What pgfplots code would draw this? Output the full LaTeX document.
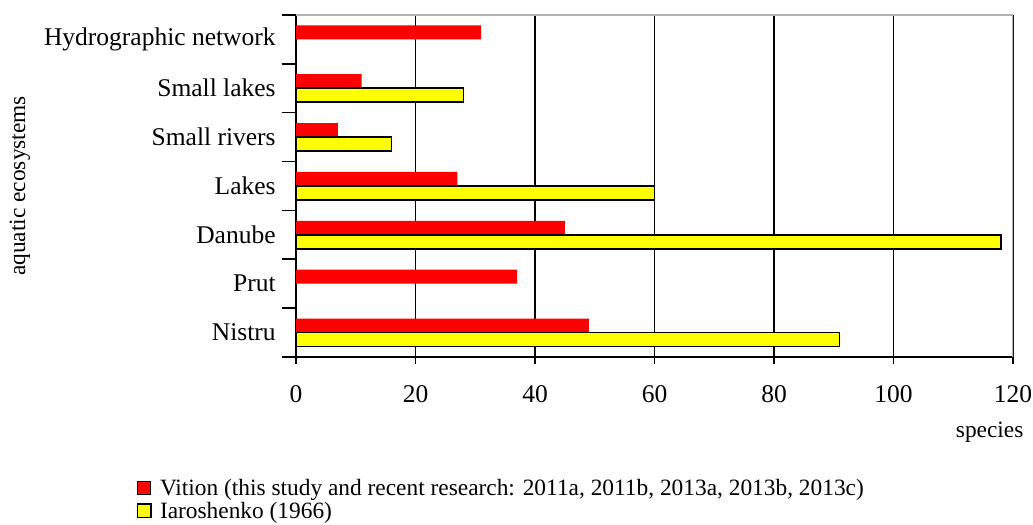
\documentclass[border=0pt,12pt]{standalone}
\usepackage{fontspec}
\setmainfont{Liberation Serif}
\usepackage{pgfplots}
\pgfplotsset{compat=1.18}
\definecolor{barred}{RGB}{255,0,0}
\definecolor{baryellow}{RGB}{255,255,0}

\begin{document}
\begin{tikzpicture}
\path[use as bounding box] (-139.3pt,-78.6pt) rectangle (346.8pt,168pt);
\begin{axis}[
    scale only axis,
    width=337.4pt, height=161pt,
    xbar,
    bar width=6.6pt,
    xmin=0, xmax=120,
    ymin=-0.5, ymax=6.5,
    axis lines*=left,
    axis line style={black, line width=0.9pt},
    xtick={0,20,...,120},
    xtick align=center,
    major tick length=6.6pt,
    tick style={black, line width=0.8pt},
    xmajorgrids,
    major grid style={black, line width=0.7pt},
    /pgf/number format/assume math mode=true,
    xticklabel style={yshift=-6pt},
    % ticks between the categories, without labels
    ytick={-0.5,0.5,...,6.5},
    ytick align=outside,
    yticklabel style={opacity=0},
    % category names at the middle of each band
    extra y ticks={0,...,6},
    extra y tick labels={Nistru, Prut, Danube, Lakes, Small rivers, Small lakes, Hydrographic network},
    extra y tick style={major tick length=0pt, yticklabel style={opacity=1, xshift=-5.4pt}},
    xlabel={species},
    xlabel style={at={(axis description cs:1.027,-0.219)}, anchor=east, font=\fontsize{11}{13}\selectfont},
    ylabel={aquatic ecosystems},
    ylabel style={at={(axis description cs:-0.385,0.5)}, anchor=center, font=\fontsize{11}{13}\selectfont},
    legend style={at={(axis description cs:-0.222,-0.353)}, anchor=north west,
        draw=none, fill=none, inner sep=0pt, outer sep=0pt,
        row sep=0pt, column sep=4pt, font=\fontsize{11}{13}\selectfont,
        nodes={inner sep=0pt, text height=8.3pt, text depth=2.5pt}},
    legend cell align=left,
    legend image code/.code={\draw[#1] (0pt,-2.4pt) rectangle (6.2pt,3.8pt);},
]
% Vition
\addplot[fill=barred, draw=none, bar shift=3.3pt]
    coordinates {(49,0) (37,1) (45,2) (27,3) (7,4) (11,5) (31,6)};
% Iaroshenko 1966
\addplot[fill=baryellow, draw=black, line width=0.7pt, bar shift=-3.3pt]
    coordinates {(91,0) (118,2) (60,3) (16,4) (28,5)};
\legend{{Vition (this study and recent research: 2011a, 2011b, 2013a, 2013b, 2013c)}, {Iaroshenko (1966)}}
\draw[gray!60, line width=0.9pt] (rel axis cs:0,1) -- (rel axis cs:1,1) -- (rel axis cs:1,0);
\end{axis}
\end{tikzpicture}
\end{document}
